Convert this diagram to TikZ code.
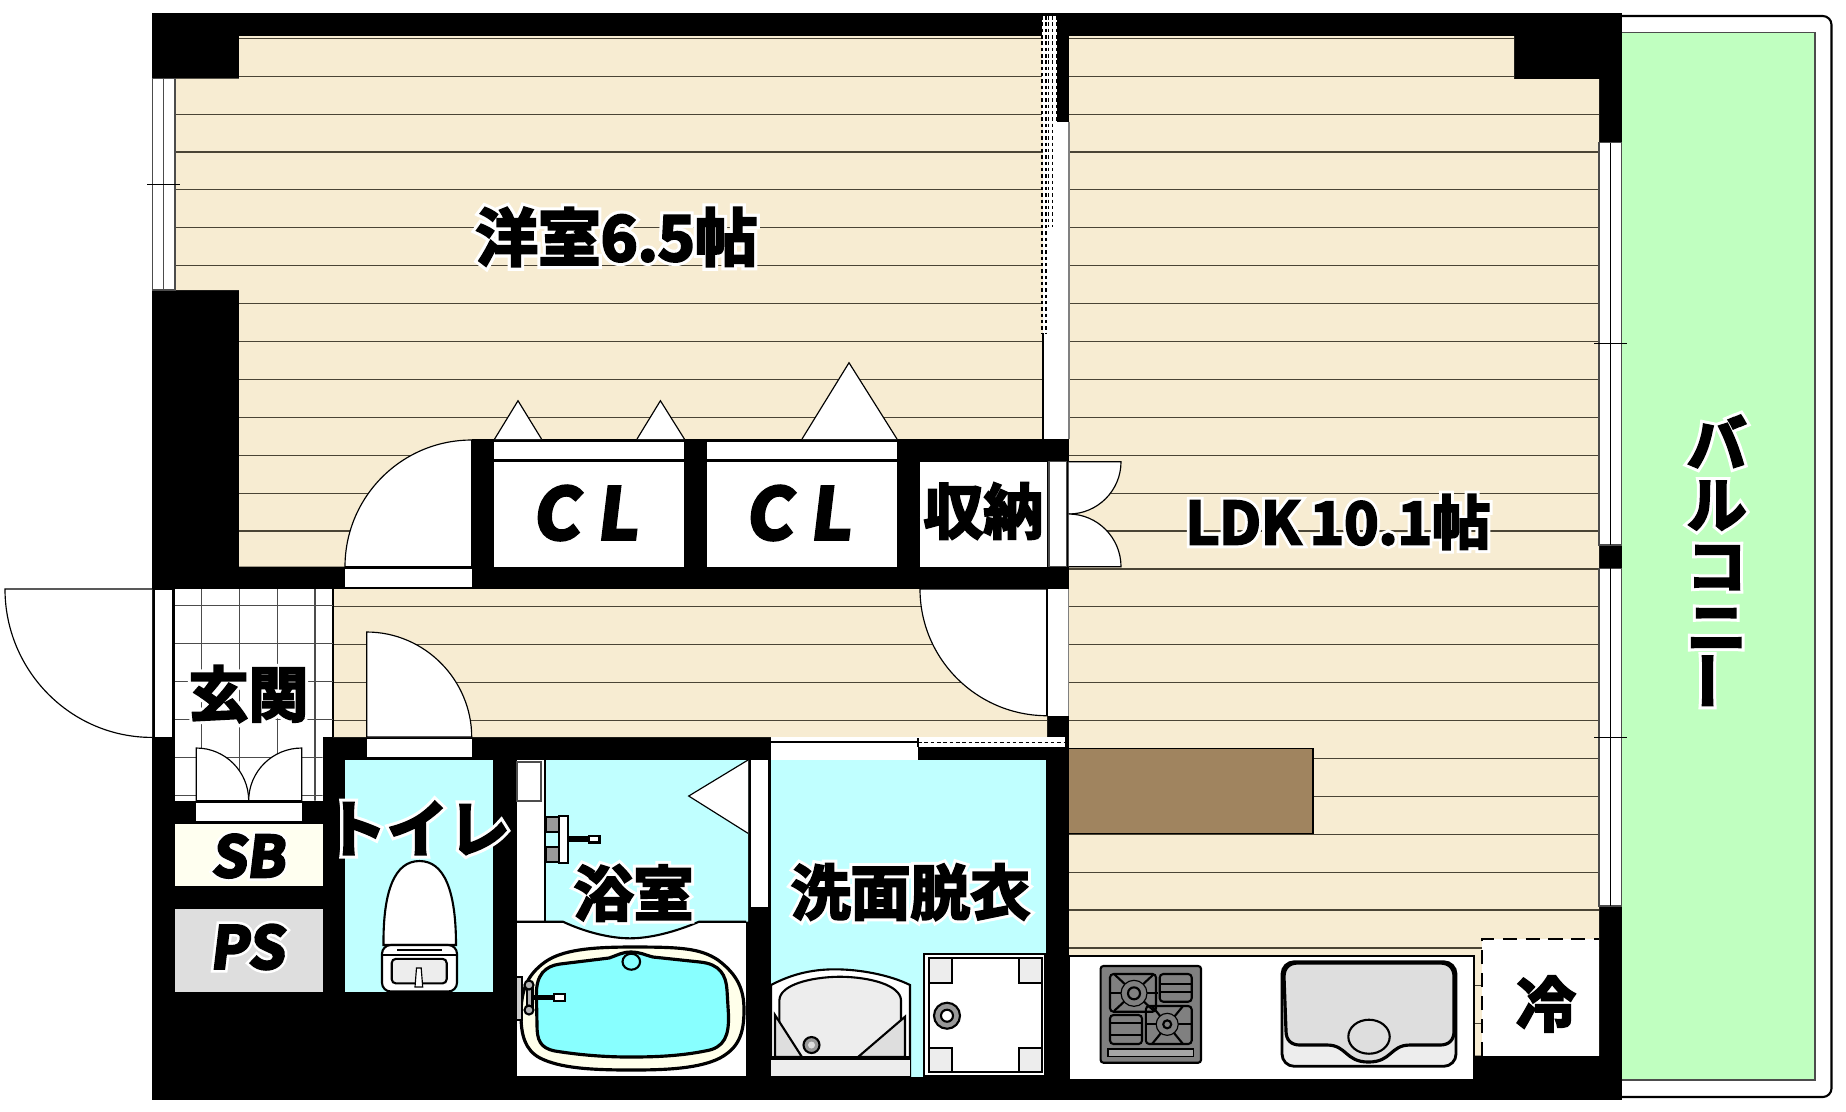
\documentclass[tikz,border=0pt]{standalone}
\usepackage{xcolor}
\usepackage{graphicx}
\usepackage{fontspec}
\usetikzlibrary{positioning}
\newfontfamily\inkfont[FakeBold=4]{Noto Sans CJK JP Bold}
\newfontfamily\halofont[FakeBold=14]{Noto Sans CJK JP Bold}
\newfontfamily\inkslant[FakeBold=5,FakeSlant=0.12]{Noto Sans CJK JP Bold}
\newfontfamily\haloslant[FakeBold=14,FakeSlant=0.12]{Noto Sans CJK JP Bold}
\newcommand{\halotext}[1]{\rlap{\halofont\textcolor{white}{#1}}{\inkfont #1}}
\newcommand{\haloslanted}[1]{\rlap{\haloslant\textcolor{white}{#1}}{\inkslant #1}}
\definecolor{floorbeige}{HTML}{F7ECD2}
\definecolor{floorline}{HTML}{4A4435}
\definecolor{wetcyan}{HTML}{C0FFFF}
\definecolor{tubcyan}{HTML}{88FFFF}
\definecolor{tubrim}{HTML}{FFFFEA}
\definecolor{balconygreen}{HTML}{C0FFC0}
\definecolor{counterbrown}{HTML}{A0845F}
\definecolor{sbcream}{HTML}{FFFFF0}
\tikzset{
  thinline/.style={line width=0.33pt},
  midline/.style={line width=0.6pt},
  leaf/.style={fill=white,draw=black,line width=0.33pt},
  whitebox/.style={fill=white,draw=black!70,line width=0.33pt},
  fixture/.style={fill=white,draw=black,line width=0.6pt},
  finedash/.style={line width=0.3pt,dash pattern=on 1pt off 0.8pt},
  roomlabel/.style={inner sep=0pt,font=\fontsize{17}{17.4}\selectfont},
}
\begin{document}
\begin{tikzpicture}[x=0.01cm,y=-0.01cm]
\useasboundingbox (0,0) rectangle (1846,1111);

% Balcony
\draw[midline,fill=white,rounded corners=2.5pt] (1600,16) -- (1831.5,16) -- (1831.5,1097) -- (1600,1097);
\draw[thinline,draw=black!70,fill=balconygreen] (1621,32.7) rectangle (1815,1080);

% Building
\fill[black] (152,13) rectangle (1622,1099.5);

% Floor
\begin{scope}
\clip (239,36) rectangle (1043,566.7)
      (175,78.7) rectangle (239,290)
      (1069,36) rectangle (1514,79)
      (1069,79) rectangle (1599,1055.7)
      (333,589) rectangle (1047,737);
\fill[floorbeige] (150,13) rectangle (1622,1099);
\foreach \k in {0,...,27}
  \draw[thinline,floorline] (150,{38.3+37.9*\k}) -- (1622,{38.3+37.9*\k});
\end{scope}

% West window
\draw[whitebox] (152.5,78.7) rectangle (175,290);
\draw[thinline,black!70] (163.7,78.7) -- (163.7,290);
\draw[thinline] (147,184.3) -- (180,184.3);

% East windows
\draw[whitebox] (1599,142.7) rectangle (1621.7,545);
\draw[thinline] (1610.3,142.7) -- (1610.3,545);
\draw[whitebox] (1599,568.3) rectangle (1621.7,906);
\draw[thinline] (1610.3,568.3) -- (1610.3,906);
\draw[thinline] (1594,343.7) -- (1627,343.7);
\draw[thinline] (1594,737.3) -- (1627,737.3);

% Sliding doors between the rooms
\fill[white] (1043,121.7) rectangle (1069,439);
\fill[white] (1042,16) rectangle (1056.7,121.7);
\draw[thinline] (1043,333) -- (1043,439);
\draw[thinline,black!50] (1069,121.7) -- (1069,439);
\draw[finedash] (1042,16) -- (1042,333);
\draw[finedash] (1046,16) -- (1046,333);
\draw[finedash] (1048.6,16) -- (1048.6,227);
\draw[finedash] (1052.3,16) -- (1052.3,227);
\draw[finedash] (1056.7,16) -- (1056.7,121.7);

% Closet wall
\fill[black] (471.6,439) rectangle (1068.6,589);
\fill[black] (152,566.7) rectangle (471.6,589);
\fill[white] (494,441.7) rectangle (684.4,459);
\fill[white] (494,462) rectangle (684.4,566.7);
\fill[white] (706.8,441.7) rectangle (897,459);
\fill[white] (706.8,462) rectangle (897,566.7);
\fill[white] (920,461.7) rectangle (1046.6,566.7);
\draw[whitebox] (1049,461.7) rectangle (1066.5,566.7);

% Closet swing marks
\draw[leaf] (494.6,439) -- (518,400.7) -- (541.5,439);
\draw[leaf] (637,439) -- (660.4,400.7) -- (684.4,439);
\draw[leaf] (802,439) -- (849,362.7) -- (897,439);

% Doors
\fill[white] (345,568.5) rectangle (471.6,587);
\draw[leaf] (471.6,566.7) -- (345,566.7) .. controls (345,496.8) and (401.7,440) .. (471.6,440) -- cycle;
\draw[leaf] (1068.6,461.7) -- (1121,461.7) .. controls (1121,490.6) and (1097.5,514) .. (1068.6,514);
\draw[leaf] (1068.6,566.7) -- (1121,566.7) .. controls (1121,537.8) and (1097.5,514) .. (1068.6,514);
\draw[leaf] (1047,589) -- (920,589) .. controls (920,659) and (977,715.7) .. (1047,715.7) -- cycle;
\fill[white] (1047,589) rectangle (1068.6,715.7);
\draw[midline] (1047,589) -- (1047,715.7);
\draw[thinline,black!50] (1068.6,589) -- (1068.6,715.7);

% Entrance
\fill[white] (175,589) rectangle (333,737);
\fill[white] (175,737) rectangle (322.7,800.7);
\draw[thinline,black] (333,589) -- (333,737);
\begin{scope}
\clip (175,589) rectangle (333,737) (175,737) rectangle (322.7,800.7);
\foreach \tilex in {201.7,239.3,277.3,315}
  \draw[thinline,black!70] (\tilex,589) -- (\tilex,800.7);
\foreach \tiley in {605.7,643.6,681.6,719.5,757.5,795.4}
  \draw[thinline,black!70] (175,\tiley) -- (333,\tiley);
\end{scope}
\draw[leaf] (152,589) -- (5,589) .. controls (5,671) and (71,737.4) .. (152,737.4);
\draw[whitebox,draw=black] (154,589) rectangle (173,737.4);
\fill[white] (196.3,803) rectangle (301.7,820.7);
\draw[leaf] (196.3,800.7) -- (196.3,748) .. controls (225.2,748) and (248.7,771.6) .. (248.7,800.7) -- cycle;
\draw[leaf] (301.7,800.7) -- (301.7,748) .. controls (272.4,748) and (248.7,771.6) .. (248.7,800.7) -- cycle;

% SB and PS
\fill[sbcream] (175,823.5) rectangle (322.7,885.7);
\fill[black!13] (175,908.6) rectangle (322.7,991.5);

% Toilet
\fill[wetcyan] (345.3,759.6) rectangle (492.7,991.5);
\fill[white] (366.7,739) rectangle (471.7,756.8);
\draw[leaf] (366.7,737) -- (366.7,632) .. controls (424.7,632) and (471.7,680) .. (471.7,737) -- cycle;
\draw[fixture] (383.5,945) .. controls (383,890) and (395,861) .. (419.5,861) .. controls (444,861) and (456,890) .. (456,945) -- cycle;
\draw[fixture,rounded corners=2.5pt] (382,945) rectangle (457,991.5);
\draw[thinline] (382,955) -- (457,955);
\draw[thinline] (397,950) -- (442,950);
\draw[midline,fill=black!7,rounded corners=1.2pt] (391.7,958.8) rectangle (446.7,983.4);
\draw[thinline,fill=white] (415,987) -- (416.5,968) -- (421.2,968) -- (422.7,987) -- cycle;

% Bathroom
\fill[white] (516.8,760) rectangle (545,921.7);
\fill[white] (516.8,921.7) rectangle (746,1075.7);
\fill[wetcyan] (545,760) -- (748,760) -- (748,921.7) -- (699,921.7) .. controls (675,932) and (650,938.3) .. (630,938.3) .. controls (610,938.3) and (585,932) .. (563,921.7) -- (545,921.7) -- cycle;
\draw[midline] (516.8,921.7) -- (563,921.7) .. controls (585,932) and (610,938.3) .. (630,938.3) .. controls (650,938.3) and (675,932) .. (699,921.7) -- (746,921.7);
\draw[midline] (545,760) -- (545,921.7);
\draw[whitebox,line width=0.6pt] (516.8,761.7) rectangle (541.3,801);
\draw[leaf] (748,760) -- (688.7,796) -- (748,833.3);
\fill[white] (750.7,760) rectangle (768,907.3);
% faucet on the wall
\draw[thinline,fill=black!40] (546,817) rectangle (559,832);
\draw[thinline,fill=black!40] (546,847) rectangle (559,862);
\draw[midline,fill=white] (559,816) rectangle (568,863);
\draw[midline,fill=black!30] (568,837.5) rectangle (589,840.5);
\draw[midline,fill=white] (589,836) rectangle (599.5,842.5);

% Bathtub
\draw[line width=0.9pt,fill=tubrim] (632,947) .. controls (680,947) and (700,948) .. (718,960) .. controls (738,975) and (744,990) .. (744,1010) .. controls (744,1035) and (738,1048) .. (720,1058) .. controls (700,1068) and (670,1070) .. (632,1070) .. controls (590,1070) and (560,1068) .. (540,1058) .. controls (525,1050) and (521,1035) .. (521,1015) .. controls (521,990) and (527,975) .. (545,962) .. controls (562,950) and (590,947) .. (632,947) -- cycle;
\draw[line width=0.9pt,fill=tubcyan] (609,958) .. controls (618,955) and (622,952) .. (631,952) .. controls (640,952) and (645,955) .. (653,957) -- (700,962) .. controls (720,964) and (726,975) .. (727,990) -- (728.5,1015) .. controls (729,1035) and (725,1048) .. (705,1051) .. controls (680,1056) and (655,1057) .. (630,1057) .. controls (605,1057) and (580,1055) .. (555,1051) .. controls (540,1048) and (537,1040) .. (537,1025) -- (536.4,995) .. controls (536,975) and (545,966) .. (560,964) -- cycle;
\draw[midline,fill=tubcyan] (631.3,961.7) ellipse (8.8 and 8);
\draw[midline,fill=black!20] (517,977) -- (522,977) -- (522,1020) -- (517,1020);
\draw[midline,fill=black!30] (527,985) rectangle (532.5,1010);
\draw[midline,fill=black!30] (529,985) circle (4.5);
\draw[midline,fill=black!30] (529,1010) circle (4.5);
\draw[midline,fill=black!40] (534,996.5) rectangle (554,999);
\draw[midline,fill=white] (554,994) rectangle (565,1001);

% Washroom
\fill[wetcyan] (771,760) rectangle (1046,1077);
\fill[white] (771,736.7) rectangle (918,760);
\draw[midline] (771,742.3) -- (918,742.3);
\fill[white] (918,736.7) rectangle (1065,747.3);
\draw[finedash] (918,742.3) -- (1065,742.3);
\draw[thinline] (918,738) -- (918,747.3);
\draw[fixture,fill=white] (771,985) .. controls (790,975) and (810,969.3) .. (835,969.3) .. controls (860,969.3) and (890,975) .. (910,985) -- (910,1075.7) -- (771,1075.7) -- cycle;
\draw[midline,fill=black!7] (779.4,1058) -- (779.4,1000) .. controls (780,985) and (810,977) .. (840,976.7) .. controls (870,977) and (900,985) .. (901,1000) -- (901,1058) -- cycle;
\draw[midline,fill=black!13] (775,1015) -- (802,1057) -- (775,1057) -- cycle;
\draw[midline,fill=black!13] (905,1016.7) -- (858,1057) -- (905,1057) -- cycle;
\draw[fill=black!7,draw=none] (771,1058) rectangle (910,1075.7);
\draw[line width=1pt] (771,1058) -- (910,1058);
\draw[midline,fill=black!40] (811.5,1045) circle (8);
\fill[black!13] (811.5,1045) circle (3.5);
% washing machine pan
\draw[fixture] (923.6,954.3) rectangle (1045,1075.7);
\draw[fixture] (928.6,958.3) rectangle (1042.3,1072.3);
\draw[midline,fill=black!7] (928.6,958.3) rectangle (952.3,983.3);
\draw[midline,fill=black!7] (1018.6,958.3) rectangle (1042.3,983.3);
\draw[midline,fill=black!7] (928.6,1048.3) rectangle (952.3,1072.3);
\draw[midline,fill=black!7] (1018.6,1048.3) rectangle (1042.3,1072.3);
\draw[midline,fill=black!40] (947,1015.7) circle (13);
\draw[midline,fill=white] (947,1015.7) circle (6);

% Kitchen
\fill[counterbrown] (1069,748.3) rectangle (1313,833.3);
\draw[thinline] (1069,833.3) -- (1313,833.3) -- (1313,748.3) -- (1069,748.3);
\draw[line width=0.7pt,fill=white] (1069,956) rectangle (1474,1080);
\fill[white] (1482,939.3) rectangle (1599,1055.7);
\draw[midline,dash pattern=on 4pt off 2.5pt] (1482,1055.7) -- (1482,939.3) -- (1599,939.3);
% stove
\draw[midline,fill=black!50,rounded corners=0.8pt] (1100.6,966) rectangle (1201,1062.7);
\draw[midline,rounded corners=1pt] (1110,974) rectangle (1156,1011.7);
\draw[midline,rounded corners=1pt] (1159.7,974) rectangle (1191.7,1001.7);
\draw[midline,rounded corners=1pt] (1110,1015) rectangle (1142,1044);
\draw[midline,rounded corners=1pt] (1145.8,1006) rectangle (1191.7,1044);
\draw[thinline,fill=black!35] (1108,1049) rectangle (1193.6,1056.7);
\foreach \grilly in {984,992}
  \draw[midline] (1159.7,\grilly) -- (1191.7,\grilly);
\foreach \grilly in {1023,1035}
  \draw[midline] (1110,\grilly) -- (1142,\grilly);
\draw[midline] (1110,993.3) -- (1158,993.3);
\draw[midline] (1114,974) -- (1154,1011);
\draw[midline] (1154,974) -- (1114,1011);
\draw[midline] (1146,1024.3) -- (1191,1024.3);
\draw[midline] (1152,1044) -- (1183,1006);
\draw[midline] (1152,1006) -- (1183,1044);
\draw[thinline,fill=black!50] (1134,993.3) circle (13);
\draw[midline,fill=black!50] (1134,993.3) circle (6);
\draw[thinline,fill=black!50] (1167.2,1024.3) circle (11);
\draw[midline,fill=black!50] (1167.2,1024.3) circle (4);
% sink
\draw[line width=0.8pt,fill=black!7,rounded corners=3.5pt] (1282,961.7) rectangle (1456,1066.3);
\draw[line width=0.9pt,fill=black!13] (1298,963) -- (1440,963) .. controls (1449,963) and (1454,968) .. (1454,977) -- (1454,1031) .. controls (1454,1040) and (1449,1045) .. (1440,1045) -- (1410,1045) .. controls (1390,1045) and (1392,1062) .. (1368.5,1062) .. controls (1345,1062) and (1347,1045) .. (1327,1045) -- (1300,1045) .. controls (1291,1045) and (1286,1040) .. (1286,1031) -- (1284,977) .. controls (1284,968) and (1289,963) .. (1298,963) -- cycle;
\draw[midline,fill=black!13] (1369,1036.7) ellipse (20.7 and 17);

% Labels
\node[roomlabel,font=\fontsize{17.8}{18}\selectfont] (western) at (616.5,237) {\halotext{洋室6.5帖}};
\node[roomlabel,font=\fontsize{16.6}{18}\selectfont] (ldk) at (1338,522) {\halotext{LDK\hspace{0.15em}10.1帖}};
\node[roomlabel,font=\fontsize{20}{20}\selectfont] (closeta) at (585,513) {\inkslant C\hspace{0.25em}L};
\node[roomlabel,font=\fontsize{20}{20}\selectfont] (closetb) at (798,513) {\inkslant C\hspace{0.25em}L};
\node[roomlabel] (storage) at (983.4,511) {\halotext{収納}};
\node[roomlabel] (genkan) at (248.5,694) {\halotext{玄関}};
\node[roomlabel,font=\fontsize{16}{18}\selectfont] (sb) at (248,856) {\haloslanted{SB}};
\node[roomlabel,font=\fontsize{16.5}{18}\selectfont] (ps) at (247,947) {\haloslanted{PS}};
\node[roomlabel,font=\fontsize{17.5}{18}\selectfont] (toilet) at (417.5,828) {\halotext{トイレ}};
\node[roomlabel] (bath) at (633.6,893) {\halotext{浴室}};
\node[roomlabel] (wash) at (910.4,892) {\halotext{洗面脱衣}};
\node[roomlabel] (fridge) at (1546,1004) {\halotext{冷}};
\node[roomlabel,align=center] (balcony) at (1716.7,563) {\halotext{バ}\\\halotext{ル}\\\halotext{コ}\\\halotext{ニ}\\\rotatebox{90}{\halotext{ー}}};
\end{tikzpicture}
\end{document}
